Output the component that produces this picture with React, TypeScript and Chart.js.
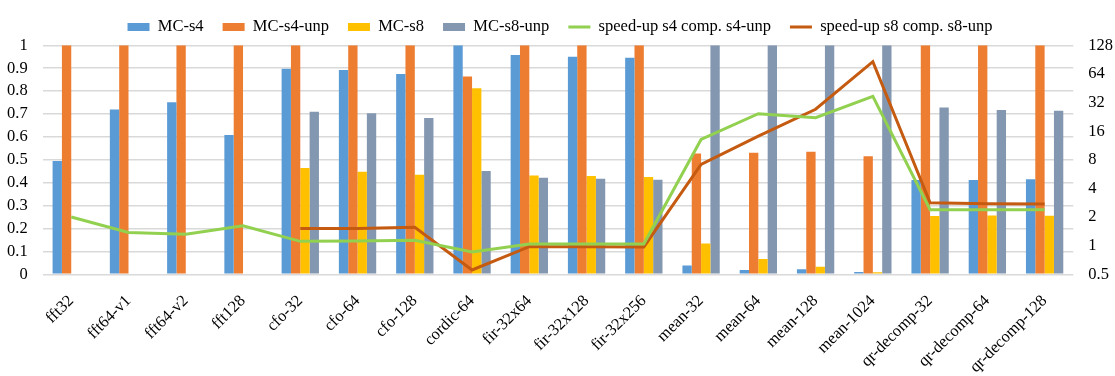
import React, { useEffect, useRef } from "react";
import { Chart, registerables } from "chart.js";

Chart.register(...registerables);

const categories = [
  "fft32", "fft64-v1", "fft64-v2", "fft128", "cfo-32", "cfo-64", "cfo-128", "cordic-64",
  "fir-32x64", "fir-32x128", "fir-32x256", "mean-32", "mean-64", "mean-128", "mean-1024",
  "qr-decomp-32", "qr-decomp-64", "qr-decomp-128",
];

const mcS4 = [0.495, 0.72, 0.751, 0.608, 0.898, 0.892, 0.875, 1, 0.958, 0.95, 0.946, 0.038, 0.019, 0.022, 0.01, 0.412, 0.412, 0.415];
const mcS4Unp = [1, 1, 1, 1, 1, 1, 1, 0.864, 1, 1, 1, 0.527, 0.531, 0.535, 0.515, 1, 1, 1];
const mcS8 = [null, null, null, null, 0.464, 0.448, 0.435, 0.812, 0.432, 0.429, 0.425, 0.135, 0.067, 0.033, 0.009, 0.255, 0.257, 0.256];
const mcS8Unp = [null, null, null, null, 0.71, 0.703, 0.683, 0.451, 0.422, 0.417, 0.413, 1, 1, 1, 1, 0.728, 0.717, 0.714];
const speedupS4 = [2.0, 1.38, 1.32, 1.62, 1.11, 1.12, 1.14, 0.86, 1.04, 1.04, 1.04, 13.1, 24.4, 22.2, 37.2, 2.39, 2.38, 2.38];
const speedupS8 = [null, null, null, null, 1.52, 1.52, 1.56, 0.555, 0.976, 0.976, 0.97, 7.17, 14.2, 27.2, 86.1, 2.83, 2.76, 2.75];

const leftTicks = [0, 0.1, 0.2, 0.3, 0.4, 0.5, 0.6, 0.7, 0.8, 0.9, 1];
const rightTicks = [0.5, 1, 2, 4, 8, 16, 32, 64, 128];

const FONT = "'Liberation Serif', 'Times New Roman', serif";
const FS = 16.5;

export default function App() {
  const ref = useRef<HTMLCanvasElement | null>(null);

  useEffect(() => {
    if (!ref.current) return;
    const barCommon = { order: 1, categoryPercentage: 0.652, barPercentage: 1, yAxisID: "y", pointStyle: "rect" };
    const topPad = (s: any) => {
      s.paddingTop = Math.max(s.paddingTop || 0, 45.3);
    };
    const chart = new Chart(ref.current, {
      type: "bar",
      data: {
        labels: categories,
        datasets: [
          { ...barCommon, label: "MC-s4", data: mcS4, backgroundColor: "#5B9BD5" },
          { ...barCommon, label: "MC-s4-unp", data: mcS4Unp, backgroundColor: "#ED7D31" },
          { ...barCommon, label: "MC-s8", data: mcS8, backgroundColor: "#FFC000" },
          { ...barCommon, label: "MC-s8-unp", data: mcS8Unp, backgroundColor: "#8497B0" },
          {
            type: "line", order: 0, label: "speed-up s4 comp. s4-unp", data: speedupS4, yAxisID: "y1",
            borderColor: "#92D050", backgroundColor: "#92D050", borderWidth: 3, pointRadius: 0,
            tension: 0, pointStyle: "line",
          },
          {
            type: "line", order: 0, label: "speed-up s8 comp. s8-unp", data: speedupS8, yAxisID: "y1",
            borderColor: "#C55A11", backgroundColor: "#C55A11", borderWidth: 3, pointRadius: 0,
            tension: 0, pointStyle: "line",
          },
        ] as any,
      },
      options: {
        animation: false,
        responsive: false,
        maintainAspectRatio: false,
        layout: { padding: { left: -8, right: -13, top: -12, bottom: -18 } },
        plugins: {
          tooltip: { enabled: false },
          legend: {
            position: "top",
            labels: {
              usePointStyle: true,
              boxHeight: 8,
              pointStyleWidth: 22,
              padding: 19,
              color: "#000",
              font: { family: FONT, size: FS },
              sort: (a: any, b: any) => a.datasetIndex - b.datasetIndex,
            },
          },
        },
        scales: {
          x: {
            offset: true,
            grid: { display: false, drawTicks: false },
            border: { display: false },
            afterFit: (s: any) => {
              s.paddingLeft = 0;
              s.paddingRight = 0;
            },
            ticks: {
              color: "#000",
              font: { family: FONT, size: FS },
              maxRotation: 45,
              minRotation: 45,
              autoSkip: false,
              padding: 17,
            },
          },
          y: {
            position: "left",
            min: 0,
            max: 1,
            afterBuildTicks: (axis: any) => {
              axis.ticks = leftTicks.map((v) => ({ value: v }));
            },
            afterFit: topPad,
            grid: { color: "#D9D9D9", lineWidth: 1.5, drawTicks: false },
            border: { display: false },
            ticks: {
              color: "#000",
              font: { family: FONT, size: FS },
              padding: 15,
              callback: (v: any) => String(Math.round(Number(v) * 10) / 10),
            },
          },
          y1: {
            type: "logarithmic",
            position: "right",
            min: 0.5,
            max: 128,
            afterBuildTicks: (axis: any) => {
              axis.ticks = rightTicks.map((v) => ({ value: v }));
            },
            afterFit: topPad,
            grid: { display: false, drawTicks: false },
            border: { display: false },
            ticks: {
              color: "#000",
              font: { family: FONT, size: FS },
              padding: 15,
              callback: (v: any) => String(v),
            },
          },
        },
      } as any,
    });
    return () => chart.destroy();
  }, []);

  return (
    <div style={{ position: "absolute", left: 0, top: 0, width: 1115, height: 376, background: "#fff" }}>
      <canvas ref={ref} width={1115} height={376} style={{ width: 1115, height: 376 }} />
    </div>
  );
}
